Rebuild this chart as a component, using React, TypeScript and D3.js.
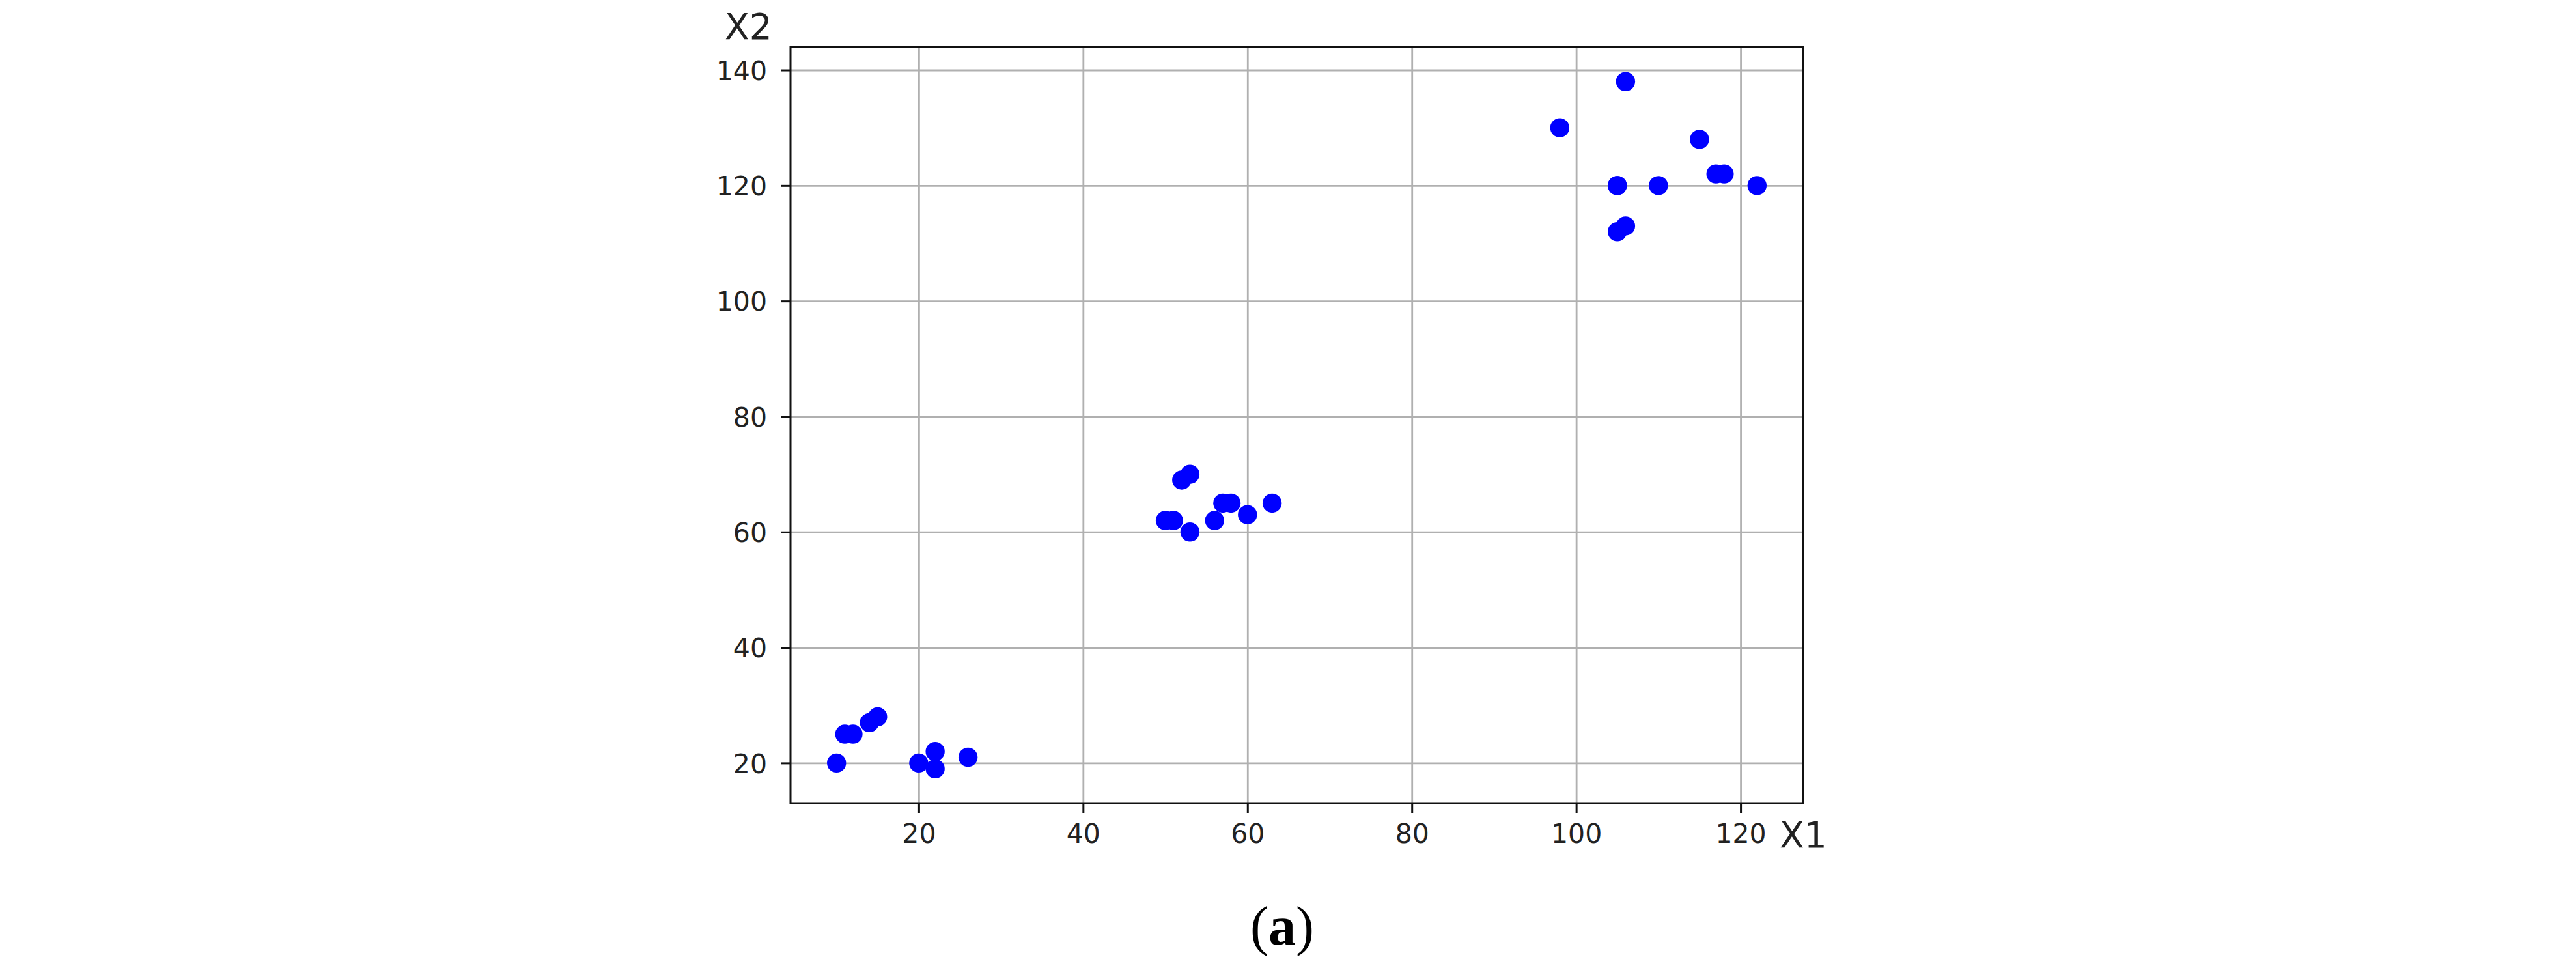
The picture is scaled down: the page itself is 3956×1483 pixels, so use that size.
import { useRef, useEffect } from 'react';
import * as d3 from 'd3';

// points (three clusters)
const x1Values = [10, 11, 12, 14, 15, 20, 22, 22, 26, 50, 51, 52, 53, 53, 56, 57, 58, 60, 63, 98, 105, 105, 105, 106, 106, 110, 115, 117, 118, 122];
const x2Values = [20, 25, 25, 27, 28, 20, 22, 19, 21, 62, 62, 69, 70, 60, 62, 65, 65, 63, 65, 130, 120, 112, 120, 138, 113, 120, 128, 122, 122, 120];
const xTicks = [20, 40, 60, 80, 100, 120];
const yTicks = [20, 40, 60, 80, 100, 120, 140];
const xLabel = 'X1';
const yLabel = 'X2';
const caption = 'a';

const W = 3956;
const H = 1483;

export default function App() {
  const svgRef = useRef<SVGSVGElement>(null);
  const plot = { left: 1214, right: 2769, top: 72.5, bottom: 1233 };

  useEffect(() => {
    if (!svgRef.current) return;
    const svg = d3.select(svgRef.current);
    svg.selectAll('*').remove();

    // matplotlib-style 5% margins around the data
    const pad = (lo: number, hi: number) => [lo - (hi - lo) * 0.05, hi + (hi - lo) * 0.05];
    const [xmin, xmax] = d3.extent(x1Values) as [number, number];
    const [ymin, ymax] = d3.extent(x2Values) as [number, number];
    const x = d3.scaleLinear().domain(pad(xmin, xmax)).range([plot.left, plot.right]);
    const y = d3.scaleLinear().domain(pad(ymin, ymax)).range([plot.bottom, plot.top]);

    const font = '"DejaVu Sans", sans-serif';
    const innerW = plot.right - plot.left;
    const innerH = plot.bottom - plot.top;

    // grid
    svg.append('g')
      .attr('transform', `translate(0,${plot.bottom})`)
      .call(d3.axisBottom(x).tickValues(xTicks).tickSize(-innerH).tickFormat(() => ''))
      .call((g) => { g.select('.domain').remove(); g.selectAll('line').attr('stroke', '#b0b0b0').attr('stroke-width', 2.8); });
    svg.append('g')
      .attr('transform', `translate(${plot.left},0)`)
      .call(d3.axisLeft(y).tickValues(yTicks).tickSize(-innerW).tickFormat(() => ''))
      .call((g) => { g.select('.domain').remove(); g.selectAll('line').attr('stroke', '#b0b0b0').attr('stroke-width', 2.8); });

    // points
    svg.append('g')
      .selectAll('circle')
      .data(x1Values.map((v, i) => [v, x2Values[i]]))
      .join('circle')
      .attr('cx', (d) => x(d[0]))
      .attr('cy', (d) => y(d[1]))
      .attr('r', 14.7)
      .attr('fill', '#0000ff');

    // frame
    svg.append('rect')
      .attr('x', plot.left).attr('y', plot.top)
      .attr('width', innerW).attr('height', innerH)
      .attr('fill', 'none').attr('stroke', '#111').attr('stroke-width', 3);

    // axes
    svg.append('g')
      .attr('transform', `translate(0,${plot.bottom})`)
      .call(d3.axisBottom(x).tickValues(xTicks).tickSize(15).tickPadding(16).tickFormat(d3.format('d')))
      .call((g) => {
        g.select('.domain').remove();
        g.selectAll('line').attr('stroke', '#111').attr('stroke-width', 3);
        g.selectAll('text').attr('fill', '#222').attr('font-family', font).attr('font-size', 41).attr('dy', '0.72em');
      });
    svg.append('g')
      .attr('transform', `translate(${plot.left},0)`)
      .call(d3.axisLeft(y).tickValues(yTicks).tickSize(15).tickPadding(21).tickFormat(d3.format('d')))
      .call((g) => {
        g.select('.domain').remove();
        g.selectAll('line').attr('stroke', '#111').attr('stroke-width', 3);
        g.selectAll('text').attr('fill', '#222').attr('font-family', font).attr('font-size', 41).attr('dy', '0.36em');
      });

    // axis labels
    svg.append('text')
      .attr('x', 2733).attr('y', 1301)
      .attr('font-family', font).attr('font-size', 55).attr('fill', '#222')
      .text(xLabel);
    svg.append('text')
      .attr('x', 1113).attr('y', 60)
      .attr('font-family', font).attr('font-size', 55).attr('fill', '#222')
      .text(yLabel);

    // caption
    const cap = svg.append('text')
      .attr('x', 1969).attr('y', 1450)
      .attr('text-anchor', 'middle')
      .attr('font-family', '"Liberation Serif", "Times New Roman", serif')
      .attr('font-size', 84).attr('fill', '#000');
    cap.append('tspan').text('(');
    cap.append('tspan').attr('font-weight', 'bold').text(caption);
    cap.append('tspan').text(')');
  }, []);

  return (
    <div style={{ position: 'absolute', left: 0, top: 0 }}>
      <svg ref={svgRef} width={W} height={H} style={{ display: 'block', background: '#fff' }} />
    </div>
  );
}
